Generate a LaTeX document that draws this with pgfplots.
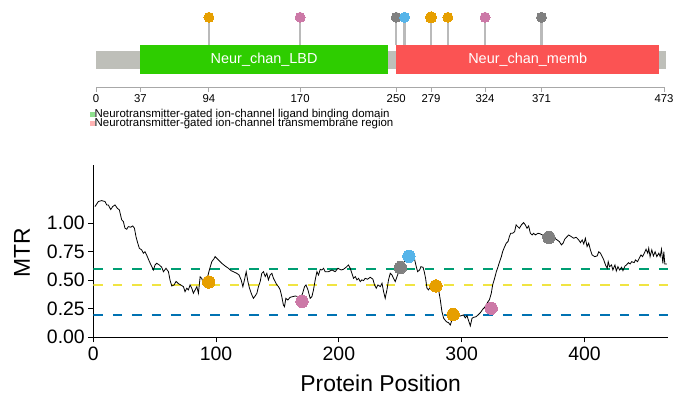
\documentclass[border=0pt]{standalone}
\usepackage{pgfplots}
\pgfplotsset{compat=1.18}
\usepackage{fontspec}
\setmainfont{Liberation Sans}

\definecolor{okorange}{HTML}{E69F00}
\definecolor{okpink}{HTML}{CC79A7}
\definecolor{okgray}{HTML}{808080}
\definecolor{okblue}{HTML}{56B4E9}
\definecolor{okgreen}{HTML}{009E73}
\definecolor{okyellow}{HTML}{F0E442}
\definecolor{okdblue}{HTML}{0072B2}
\definecolor{lbdgreen}{HTML}{2ECD00}
\definecolor{membred}{HTML}{FB5353}
\definecolor{backbone}{HTML}{BEBFB9}
\definecolor{stemgray}{HTML}{BABABA}
\definecolor{rulergray}{HTML}{A8A8A8}
\definecolor{leggreen}{HTML}{8EE08E}
\definecolor{legred}{HTML}{FFB3B3}

\pgfplotsset{dot/.style={only marks, mark=*, color=#1, mark options={draw=#1, fill=#1, line width=0pt}}}

% MTR along the protein
\pgfplotstableread{
pos mtr
1.4 1.146
4.1 1.19
6.8 1.198
9.5 1.19
10.9 1.16
12.2 1.16
14.2 1.12
15.8 1.146
17.7 1.16
19.6 1.13
21.2 1.117
23.1 1.03
24.5 1.014
25.8 0.956
27.2 0.947
28.5 0.97
30.5 0.965
32.1 0.976
33.5 0.956
34.8 0.88
36.2 0.825
37.5 0.78
39.4 0.766
40.8 0.737
42.1 0.75
43.5 0.72
45.7 0.663
47.6 0.62
48.9 0.59
50.3 0.634
51.6 0.649
53.8 0.634
55.7 0.614
57.1 0.575
59.2 0.605
61.2 0.575
62.5 0.50
63.9 0.45
65.8 0.459
67.4 0.49
69.3 0.47
71.2 0.459
73.4 0.444
74.7 0.40
76.1 0.43
77.4 0.415
78.8 0.459
80.2 0.43
81.5 0.386
82.9 0.415
84.3 0.444
85.6 0.386
87.0 0.53
88.3 0.517
89.6 0.47
91.0 0.444
92.4 0.50
94.5 0.59
96.5 0.663
98.4 0.69
99.2 0.707
101.9 0.678
104.6 0.649
107.3 0.625
110.0 0.605
112.2 0.584
114.1 0.575
116.8 0.561
118.7 0.546
120.4 0.503
121.8 0.444
123.1 0.503
124.5 0.575
125.9 0.488
127.2 0.43
129.1 0.371
130.4 0.342
131.8 0.362
133.2 0.386
134.5 0.444
135.9 0.488
137.2 0.561
138.6 0.575
140.0 0.532
141.3 0.561
142.6 0.503
144.0 0.546
145.4 0.561
146.7 0.517
148.1 0.488
149.5 0.459
150.8 0.444
152.2 0.415
153.5 0.356
154.8 0.283
155.7 0.268
156.8 0.342
158.4 0.327
160.3 0.351
162.2 0.356
164.4 0.362
167.1 0.356
169.0 0.35
170.3 0.38
172.0 0.444
173.2 0.459
174.8 0.415
176.6 0.342
178.0 0.356
179.3 0.415
180.7 0.503
182.1 0.575
183.4 0.546
184.8 0.596
186.1 0.59
187.5 0.605
188.8 0.575
191.5 0.575
194.3 0.59
197.0 0.575
199.2 0.605
201.9 0.59
203.7 0.596
205.9 0.614
207.8 0.634
209.2 0.605
210.6 0.561
211.9 0.517
213.3 0.532
214.7 0.503
216.0 0.517
217.4 0.488
218.7 0.503
220.1 0.497
221.4 0.517
223.3 0.509
225.5 0.526
227.7 0.509
229.0 0.459
230.4 0.43
231.8 0.459
233.7 0.444
235.1 0.474
236.4 0.40
237.7 0.342
239.1 0.415
240.4 0.503
241.8 0.561
243.2 0.546
244.5 0.517
245.9 0.488
247.3 0.532
249.0 0.58
250.5 0.62
252.5 0.65
254.5 0.69
256.5 0.72
258.5 0.74
260.3 0.722
261.4 0.693
263.0 0.619
264.1 0.575
265.7 0.59
266.8 0.619
268.5 0.614
269.5 0.575
270.6 0.517
271.7 0.43
273.0 0.415
274.4 0.444
275.8 0.488
277.5 0.47
279.0 0.45
280.3 0.43
281.2 0.415
282.6 0.327
283.9 0.225
285.3 0.167
287.5 0.137
289.3 0.128
290.7 0.108
292.0 0.15
293.5 0.19
295.0 0.196
296.2 0.196
298.9 0.187
301.5 0.196
302.9 0.17
304.3 0.19
305.6 0.146
307.0 0.10
308.4 0.167
309.7 0.175
311.6 0.18
313.3 0.196
315.2 0.216
317.1 0.245
318.7 0.263
319.8 0.283
321.4 0.312
322.5 0.327
324.1 0.386
325.2 0.459
326.8 0.517
328.2 0.575
329.6 0.619
330.9 0.663
332.3 0.707
333.3 0.75
335.0 0.795
336.3 0.825
337.7 0.839
338.8 0.882
339.9 0.912
341.5 0.912
343.1 0.926
344.3 0.985
345.6 0.97
347.0 0.956
348.6 0.985
350.4 1.005
351.8 0.985
353.2 0.956
354.5 0.976
355.9 0.912
357.3 0.897
358.6 0.912
360.0 0.897
362.2 0.912
364.1 0.906
366.0 0.895
368.0 0.885
370.3 0.877
373.6 0.853
375.7 0.868
377.7 0.853
379.5 0.839
381.2 0.81
382.6 0.825
383.9 0.86
385.8 0.882
387.1 0.897
389.3 0.882
391.2 0.868
393.2 0.877
395.3 0.853
396.7 0.83
398.1 0.853
399.4 0.818
400.7 0.868
402.1 0.795
403.4 0.825
404.8 0.766
406.2 0.722
408.3 0.707
410.3 0.713
411.6 0.75
413.0 0.737
414.4 0.707
415.7 0.678
417.1 0.634
418.5 0.605
419.3 0.663
420.4 0.619
422.0 0.634
423.1 0.59
424.8 0.634
425.9 0.581
427.2 0.619
428.6 0.59
430.2 0.614
431.3 0.584
433.0 0.625
434.1 0.634
435.8 0.654
437.1 0.643
438.5 0.663
440.4 0.654
441.5 0.678
443.2 0.663
444.6 0.693
446.0 0.722
447.3 0.707
448.7 0.737
450.1 0.772
451.5 0.737
452.3 0.78
453.4 0.707
454.8 0.766
456.1 0.713
457.5 0.75
458.9 0.707
460.5 0.737
461.6 0.707
462.7 0.772
463.8 0.649
464.6 0.75
465.4 0.643
467.1 0.643
}\mtrdata

\begin{document}
\begin{tikzpicture}[x=1bp,y=1bp]
\path[use as bounding box] (0,0) rectangle (684,398);

% ---------------- protein diagram ----------------
\begin{axis}[
  at={(96bp,310.7bp)}, anchor=south west,
  scale only axis, width=568bp, height=87.3bp,
  xmin=0, xmax=473, ymin=12.7, ymax=100,
  clip=false,
  axis x line*=bottom, axis y line=none,
  x axis line style={draw=rulergray, line width=1.2bp, -},
  xtick={0,37,94,170,250,279,324,371,473},
  tick align=outside, major tick length=4.4bp,
  xtick style={draw=rulergray, line width=1bp},
  /pgf/number format/assume math mode=true,
  xticklabel style={font=\fontsize{11.4}{12}\selectfont, inner sep=1bp, yshift=-1.5bp},
]
% backbone and domains
\addplot[fill=backbone, draw=none] coordinates {(0,30.7) (474.5,30.7) (474.5,49.3) (0,49.3)} --cycle;
\addplot[fill=lbdgreen, draw=none] coordinates {(37,26) (243,26) (243,55) (37,55)} --cycle;
\addplot[fill=membred, draw=none] coordinates {(250,26) (469,26) (469,55) (250,55)} --cycle;
\node[text=white, font=\fontsize{14.5}{15}\selectfont] at (axis cs:140,40.5) {Neur\_chan\_LBD};
\node[text=white, font=\fontsize{14.5}{15}\selectfont] at (axis cs:359.5,40.5) {Neur\_chan\_memb};
% stems
\addplot[draw=none, mark=none, error bars/.cd, y dir=minus, y explicit,
  error mark=none, error bar style={draw=stemgray, line width=2.5bp}]
  coordinates {(94,82.7) -= (0,27.7) (170,82.7) -= (0,27.7) (250,82.7) -= (0,27.7)
    (257,82.7) -= (0,27.7) (279,82.7) -= (0,27.7) (293,82.7) -= (0,27.7)
    (324,82.7) -= (0,27.7) (371,82.7) -= (0,27.7)};
% heads
\addplot[dot=okgray, mark size=5bp] coordinates {(250,82.7) (371,82.7)};
\addplot[dot=okblue, mark size=5bp] coordinates {(257,82.7)};
\addplot[dot=okorange, mark size=5bp] coordinates {(94,82.7) (293,82.7)};
\addplot[dot=okorange, mark size=5.6bp] coordinates {(279,82.7)};
\addplot[dot=okpink, mark size=5bp] coordinates {(170,82.7) (324,82.7)};
\end{axis}

% domain key
\fill[leggreen] (89.5,280.7) rectangle (94.5,285.7);
\fill[legred] (89.5,272.3) rectangle (94.5,277.3);
\node[anchor=west, inner sep=0pt, font=\fontsize{11.5}{12}\selectfont] at (94.5,283.2) {Neurotransmitter-gated ion-channel ligand binding domain};
\node[anchor=west, inner sep=0pt, font=\fontsize{11.5}{12}\selectfont] at (94.5,274.8) {Neurotransmitter-gated ion-channel transmembrane region};

% ---------------- MTR plot ----------------
\begin{axis}[
  at={(93.3bp,60.7bp)}, anchor=south west,
  scale only axis, width=574.7bp, height=172.3bp,
  xmin=0, xmax=468, ymin=0, ymax=1.51,
  axis x line*=bottom, axis y line*=left,
  axis line style={line width=1.2bp, -},
  xtick={0,100,200,300,400},
  ytick={0,0.25,0.5,0.75,1},
  tick align=outside, major tick length=5bp,
  tick style={black, line width=1bp},
  /pgf/number format/assume math mode=true,
  yticklabel style={/pgf/number format/.cd, fixed, fixed zerofill, precision=2},
  ticklabel style={font=\fontsize{19.5}{20}\selectfont},
  xticklabel style={yshift=-1bp},
  xlabel={Protein Position}, ylabel={MTR},
  label style={font=\fontsize{23}{24}\selectfont},
  xlabel style={at={(axis description cs:0.5,-0.267)}, anchor=center},
  ylabel style={at={(axis description cs:-0.124,0.49)}, anchor=center, rotate=0},
]
\addplot[okgreen, line width=2.2bp, dash pattern=on 9.5bp off 10bp] coordinates {(0,0.60) (468,0.60)};
\addplot[okyellow, line width=2.2bp, dash pattern=on 9.5bp off 10bp] coordinates {(0,0.46) (468,0.46)};
\addplot[okdblue, line width=2.2bp, dash pattern=on 9.5bp off 10bp] coordinates {(0,0.196) (468,0.196)};
\addplot[black, line width=0.8bp] table[x=pos, y=mtr] {\mtrdata};
\addplot[dot=okorange, mark size=6.2bp] coordinates {(94,0.485) (279,0.45) (293,0.20)};
\addplot[dot=okpink, mark size=6.2bp] coordinates {(170,0.315) (324,0.255)};
\addplot[dot=okgray, mark size=6.2bp] coordinates {(250,0.61) (371,0.875)};
\addplot[dot=okblue, mark size=6.2bp] coordinates {(257,0.71)};
\end{axis}
\end{tikzpicture}
\end{document}
